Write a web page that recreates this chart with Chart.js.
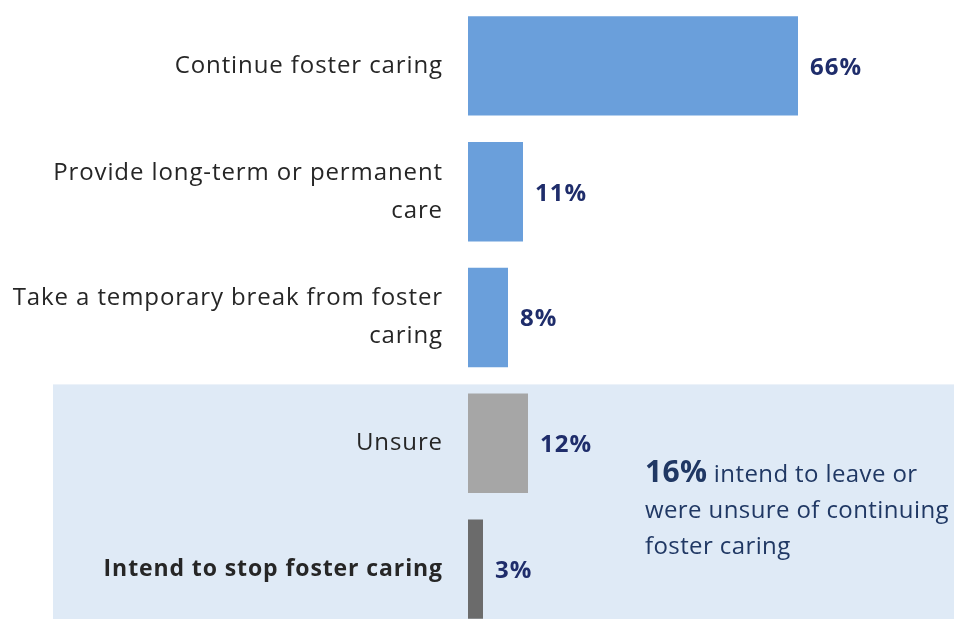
<!DOCTYPE html>
<html>
<head>
<meta charset="utf-8">
<script src="https://cdn.jsdelivr.net/npm/chart.js@4.4.1/dist/chart.umd.min.js"></script>
<style>
html,body{margin:0;padding:0;background:#fff;overflow:hidden;}
#wrap{position:relative;width:954px;height:632px;}
</style>
</head>
<body>
<div id="wrap"><canvas id="c" width="954" height="632"></canvas></div>
<script>
const categories = [
  ["Continue foster caring"],
  ["Provide long-term or permanent", "care"],
  ["Take a temporary break from foster", "caring"],
  ["Unsure"],
  ["Intend to stop foster caring"]
];
const values = [66, 11, 8, 12, 3];
const barColors = ["#6a9fdb", "#6a9fdb", "#6a9fdb", "#a6a6a6", "#6b6b6b"];
const boldIndex = 4;
const noteBold = "16%";
const noteLines = [" intend to leave or", "were unsure of continuing", "foster caring"];

const FONT = "'Open Sans', sans-serif";

const shadePlugin = {
  id: 'shade',
  beforeDraw(chart) {
    const {ctx, scales: {y}} = chart;
    const top = (y.getPixelForValue(2) + y.getPixelForValue(3)) / 2 + 4;
    ctx.save();
    ctx.fillStyle = '#dfeaf6';
    ctx.fillRect(53, top, chart.width - 53, chart.height - top);
    ctx.restore();
    ctx.letterSpacing = '0.9px';
  }
};

const labelPlugin = {
  id: 'vals',
  afterDatasetsDraw(chart) {
    const {ctx} = chart;
    const meta = chart.getDatasetMeta(0);
    ctx.save();
    ctx.letterSpacing = '1px';
    ctx.fillStyle = '#1f2d6b';
    ctx.font = "bold 24px " + FONT;
    ctx.textBaseline = 'middle';
    ctx.textAlign = 'left';
    meta.data.forEach((bar, i) => {
      ctx.fillText(values[i] + '%', bar.x + 12, bar.y + 2);
    });
    const y = chart.scales.y;
    const x = chart.scales.x;
    const lx = x.getPixelForValue(35.4);
    const ly = (y.getPixelForValue(3) + y.getPixelForValue(4)) / 2 - 24;
    ctx.fillStyle = '#203864';
    ctx.textBaseline = 'alphabetic';
    ctx.letterSpacing = '0.3px';
    ctx.font = "bold 30px " + FONT;
    ctx.fillText(noteBold, lx, ly);
    const w = ctx.measureText(noteBold).width;
    ctx.letterSpacing = '0.4px';
    ctx.font = "24px " + FONT;
    ctx.fillText(noteLines[0], lx + w, ly);
    ctx.fillText(noteLines[1], lx, ly + 36);
    ctx.fillText(noteLines[2], lx, ly + 72);
    ctx.restore();
  }
};

new Chart(document.getElementById('c'), {
  type: 'bar',
  data: {
    labels: categories,
    datasets: [{
      data: values,
      backgroundColor: barColors,
      borderWidth: 0,
      categoryPercentage: 0.79,
      barPercentage: 1
    }]
  },
  options: {
    indexAxis: 'y',
    responsive: false,
    animation: false,
    layout: {padding: {top: 3, right: 36, left: 0, bottom: 0}},
    plugins: {legend: {display: false}, tooltip: {enabled: false}},
    scales: {
      x: {
        min: 0, max: 90,
        display: false,
        grid: {display: false}
      },
      y: {
        grid: {display: false, drawTicks: false},
        border: {display: false},
        afterFit(scale) { scale.width = 468; scale.paddingTop = 0; scale.paddingBottom = 0; },
        ticks: {
          padding: 25,
          color: '#262626',
          font: (ctx) => ({family: FONT, size: ctx.index === boldIndex ? 23 : 24, lineHeight: 1.58, weight: ctx.index === boldIndex ? 'bold' : 'normal'})
        }
      }
    }
  },
  plugins: [shadePlugin, labelPlugin]
});
</script>
</body>
</html>
